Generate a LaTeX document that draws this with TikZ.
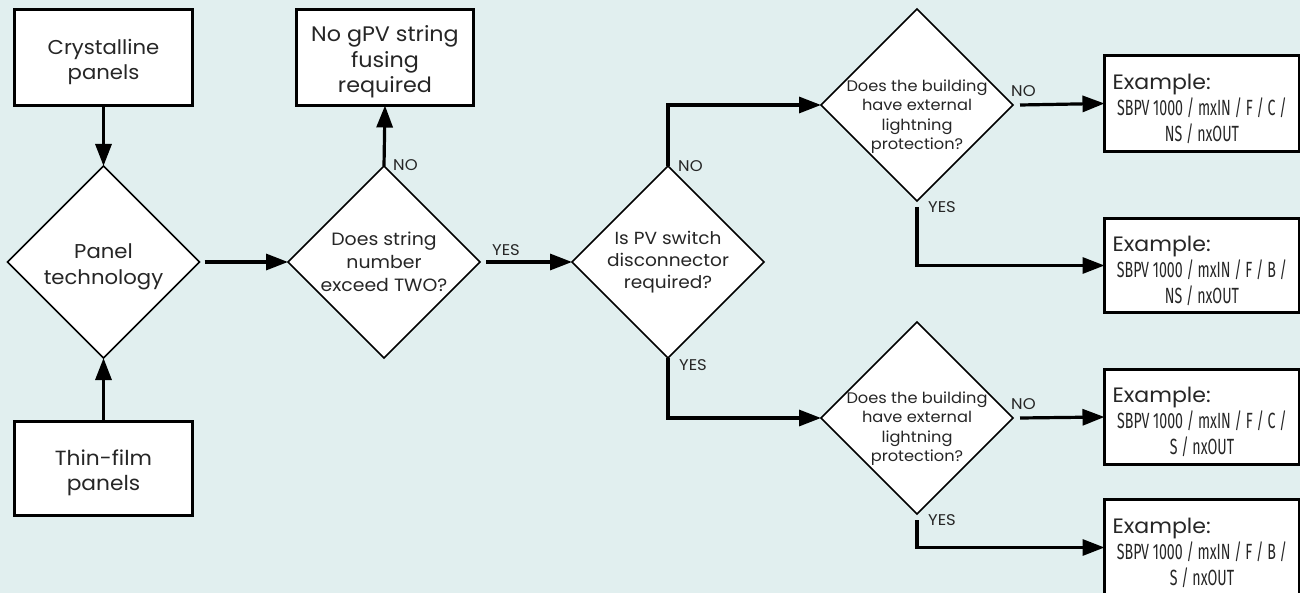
\documentclass[tikz,border=0pt]{standalone}
\usepackage{fontspec}
\setmainfont{Poppins}[FakeStretch=1.06]
\newfontfamily\condfont[FakeStretch=0.645]{Fira Sans}
\usetikzlibrary{shapes.geometric,arrows.meta}
\definecolor{bg}{RGB}{225,239,239}
\definecolor{ink}{RGB}{38,38,38}
\tikzset{
  boxnode/.style={draw=black, line width=3pt, fill=white, inner sep=0pt, outer sep=0pt,
    align=center, text=ink},
  dianode/.style={diamond, aspect=1, draw=black, line width=1.6pt, fill=white,
    minimum width=192pt, minimum height=192pt, inner sep=0pt, outer sep=0pt,
    align=center, text=ink},
  arr/.style={line width=3.2pt, -{Triangle[length=22pt,width=16pt]}},
  lbl/.style={font=\fontsize{15.5}{15.5}\selectfont, text=ink, inner sep=0pt, anchor=west},
  exbox/.style={boxnode, minimum width=195pt, font=\fontsize{22}{26}\selectfont}
}
\newcommand{\lift}[1]{\rule{0pt}{#1}}
\newcommand{\exampletext}[2]{\makebox[185pt][l]{\lift{25.5pt}\hspace*{3pt}\fontsize{20.8}{25}\selectfont Example:}\\
  \makebox[185pt][c]{\condfont\fontsize{22}{26}\selectfont #1}\\
  \makebox[185pt][c]{\condfont\fontsize{22}{26}\selectfont #2}}
\begin{document}
\begin{tikzpicture}[x=1pt,y=-1pt]
\useasboundingbox (0,0) rectangle (1300,593);
\fill[bg] (0,0) rectangle (1300,593);
\clip (0,0) rectangle (1300,593);

% left column
\node[boxnode, minimum width=178pt, minimum height=96pt, font=\fontsize{20}{25}\selectfont]
  (cry) at (103.5,57.5) {\lift{24pt}Crystalline\\panels};
\node[dianode, font=\fontsize{20}{26.5}\selectfont] (pt) at (103.5,262) {\lift{24pt}Panel\\technology};
\node[boxnode, minimum width=178pt, minimum height=94pt, font=\fontsize{20.5}{25}\selectfont]
  (thin) at (103.5,468.5) {\lift{25pt}Thin-film\\panels};

% string number
\node[dianode, font=\fontsize{17.8}{22.7}\selectfont] (ds) at (384,262) {Does string\\number\\exceed TWO?};
\node[boxnode, minimum width=177pt, minimum height=96pt, font=\fontsize{21}{25.5}\selectfont]
  (nog) at (385,57.5) {\lift{25pt}No gPV string\\fusing\\required};

% PV switch
\node[dianode, font=\fontsize{17.5}{22.3}\selectfont] (pv) at (668,262) {Is PV switch\\disconnector\\required?};

% lightning diamonds
\node[dianode, inner sep=-22pt, font=\fontsize{15.3}{19.5}\selectfont] (lt1) at (917,105) {\lift{35pt}Does the building\\have external\\lightning\\protection?};
\node[dianode, inner sep=-22pt, font=\fontsize{15.3}{19.5}\selectfont] (lt2) at (917,418) {\lift{33pt}Does the building\\have external\\lightning\\protection?};

% example boxes
\node[exbox, minimum height=96pt] (ex1) at (1202,103.5) {\exampletext{SBPV 1000 / mxIN / F / C /}{NS / nxOUT}};
\node[exbox, minimum height=94pt] (ex2) at (1202,265.5) {\exampletext{SBPV 1000 / mxIN / F / B /}{NS / nxOUT}};
\node[exbox, minimum height=95pt] (ex3) at (1202,417) {\exampletext{SBPV 1000 / mxIN / F / C /}{S / nxOUT}};
\node[exbox, minimum height=96pt] (ex4) at (1202,547.5) {\exampletext{SBPV 1000 / mxIN / F / B /}{S / nxOUT}};

% connectors
\draw[arr] (cry) -- (pt);
\draw[arr] (thin) -- (pt);
\draw[arr] ([xshift=5pt]pt.east) -- (ds.west);
\draw[arr] (ds.north) -- (nog.south);
\node[lbl] (no1) at (393,165) {NO};
\draw[arr] ([xshift=6pt]ds.east) -- (pv.west);
\node[lbl] (yes1) at (492,250) {YES};
\draw[arr] (pv.north) |- (lt1.west);
\node[lbl] (no2) at (678,166) {NO};
\draw[arr] (pv.south) |- (lt2.west);
\node[lbl] (yes2) at (679,365) {YES};
\draw[arr] ([xshift=7pt]lt1.east) -- (ex1.west);
\node[lbl] (no3) at (1011,91) {NO};
\draw[arr] ([yshift=-6pt]lt1.south) |- (ex2.west);
\node[lbl] (yes3) at (928,207) {YES};
\draw[arr] ([xshift=7pt]lt2.east) -- (ex3.west);
\node[lbl] (no4) at (1011,404) {NO};
\draw[arr] ([yshift=-6pt]lt2.south) |- (ex4.west);
\node[lbl] (yes4) at (928,520) {YES};
\end{tikzpicture}
\end{document}
